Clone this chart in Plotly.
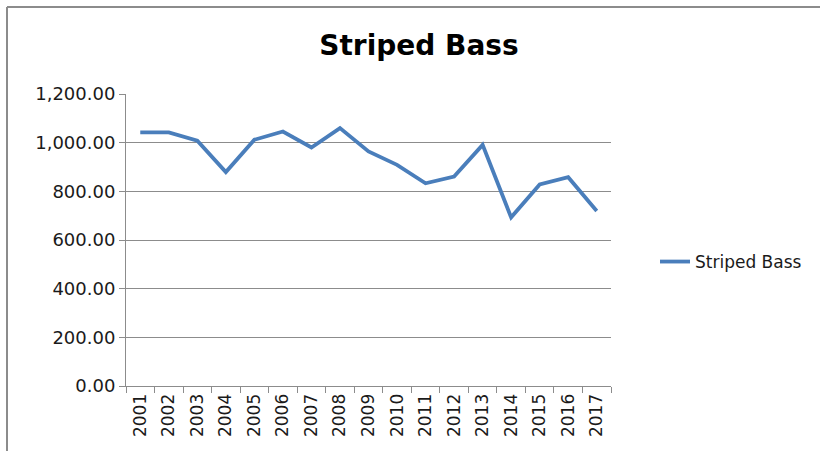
import plotly.graph_objects as go

years = ["2001", "2002", "2003", "2004", "2005", "2006", "2007", "2008", "2009",
         "2010", "2011", "2012", "2013", "2014", "2015", "2016", "2017"]
striped_bass = [1042, 1042, 1008, 879, 1012, 1046, 980, 1060, 964,
                909, 833, 861, 991, 693, 828, 858, 719]
y_ticks = [0, 200, 400, 600, 800, 1000, 1200]

FONT = "'DejaVu Sans', Verdana, sans-serif"
GRAY = "#8c8c8c"
TXT = "#1a1a1a"

fig = go.Figure()
fig.add_trace(go.Scatter(
    x=years, y=striped_bass, mode="lines", name="Striped Bass",
    line=dict(color="#4a7ebb", width=3.8),
))

L, R, T, B = 126, 611, 94, 386
W, H = 820, 451
pw, ph = R - L, B - T

def px_x(p):
    return (p - L) / pw

def px_y(p):
    return (B - p) / ph

border = dict(color=GRAY, width=2)

fig.update_layout(
    width=W, height=H,
    margin=dict(l=L, r=W - R, t=T, b=H - B),
    paper_bgcolor="white", plot_bgcolor="white",
    title=dict(text="<b>Striped Bass</b>", x=419 / W, xanchor="center",
               y=1 - 45 / H, yanchor="middle",
               font=dict(family=FONT, size=28, color="#000000")),
    font=dict(family=FONT, size=17, color=TXT),
    showlegend=True,
    legend=dict(x=px_x(655), xanchor="left", y=px_y(262), yanchor="middle",
                font=dict(family=FONT, size=17, color=TXT),
                bgcolor="rgba(0,0,0,0)"),
    xaxis=dict(type="category", range=[-0.5, 16.5], tickson="boundaries",
               ticks="outside", ticklen=6, tickcolor=GRAY, tickangle=-90,
               showline=True, linecolor=GRAY, linewidth=1,
               showgrid=False, zeroline=False,
               tickfont=dict(family=FONT, size=17, color=TXT)),
    yaxis=dict(range=[0, 1200], tickvals=y_ticks, tickformat=",.2f",
               ticks="outside", ticklen=6, tickcolor=GRAY,
               showline=True, linecolor=GRAY, linewidth=1,
               showgrid=True, gridcolor=GRAY, gridwidth=1, zeroline=False,
               tickfont=dict(family=FONT, size=18, color=TXT)),
    shapes=[
        dict(type="line", xref="paper", yref="paper",
             x0=px_x(7), x1=px_x(820), y0=px_y(7), y1=px_y(7),
             line=border, layer="below"),
        dict(type="line", xref="paper", yref="paper",
             x0=px_x(7), x1=px_x(7), y0=px_y(7), y1=px_y(451),
             line=border, layer="below"),
    ],
)

fig.write_html("out.html",
               config={"displayModeBar": False},
               post_script="document.body.style.margin='0';"
                           "document.body.style.overflow='hidden';")
